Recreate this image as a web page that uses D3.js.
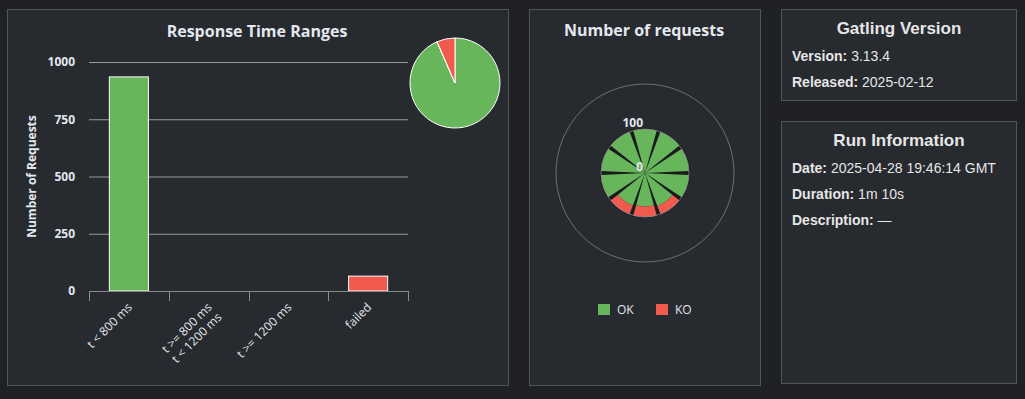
<!doctype html>
<html>
<head>
<meta charset="utf-8">
<script src="https://d3js.org/d3.v7.min.js"></script>
<style>
  html, body { margin: 0; padding: 0; background: #1f2124; }
  body { width: 1025px; height: 399px; position: relative; overflow: hidden; }
  .panel { position: absolute; box-sizing: border-box; background: #272a2f; border: 1px solid #505358; }
  svg { position: absolute; left: 0; top: 0; }
  .chart text { font-family: "Open Sans", sans-serif; fill: #e2e8ee; }
  .info text { font-family: "Liberation Sans", Arial, sans-serif; fill: #e6e6e6; }
</style>
</head>
<body>
<div class="panel" style="left:7px;top:9px;width:502px;height:377px"></div>
<div class="panel" style="left:529px;top:9px;width:232px;height:377px"></div>
<div class="panel" style="left:781px;top:9px;width:236px;height:92px"></div>
<div class="panel" style="left:781px;top:121px;width:236px;height:263px"></div>
<svg width="1025" height="399"></svg>
<script>
// response time ranges
var rangeCategories = ["t < 800 ms", "t >= 800 ms|t < 1200 ms", "t >= 1200 ms", "failed"];
var rangeCounts = [935, 0, 0, 65];
var rangeTicks = [0, 250, 500, 750, 1000];

// number of requests (polar, stacked OK / KO)
var requestNames = ["request_1", "request_2", "request_3", "request_4", "request_5",
                    "request_6", "request_7", "request_8", "request_9", "request_10"];
var okCounts = [100, 100, 100, 100, 80, 76, 79, 100, 100, 100];
var koCounts = [0, 0, 0, 0, 20, 24, 21, 0, 0, 0];
var polarTicks = [0, 100];

// info panels
var versionInfo = [["Version:", "3.13.4"], ["Released:", "2025-02-12"]];
var runInfo = [["Date:", "2025-04-28 19:46:14 GMT"], ["Duration:", "1m 10s"], ["Description:", "\u2014"]];

var green = "#68b65c", red = "#f15b4f";
var svg = d3.select("svg");

// ---------- bar chart ----------
var chart = svg.append("g").attr("class", "chart");
var plot = {left: 89, right: 408, top: 62, bottom: 291};

chart.append("text")
  .attr("x", 257).attr("y", 37)
  .attr("text-anchor", "middle")
  .style("font-size", "16px").style("font-weight", "bold")
  .text("Response Time Ranges");

var x = d3.scaleBand().domain(rangeCategories).range([plot.left, plot.right]);
var y = d3.scaleLinear().domain([0, 1000]).range([plot.bottom, plot.top]);
var barColor = d3.scaleOrdinal().domain(rangeCategories).range([green, "#ffdd00", "#ffa900", red]);

// grid + y labels
var yAxis = chart.append("g")
  .attr("transform", "translate(" + plot.left + ",0)")
  .call(d3.axisLeft(y).tickValues(rangeTicks).tickFormat(d3.format("d"))
    .tickSize(-(plot.right - plot.left)).tickPadding(14));
yAxis.select(".domain").remove();
yAxis.selectAll(".tick line").attr("stroke", "#9a9a9a");
yAxis.selectAll(".tick text")
  .style("font-size", "12px").style("font-weight", "bold")
  .attr("fill", "#e2e8ee").attr("font-family", "Open Sans");

chart.append("text")
  .attr("transform", "translate(36," + ((plot.top + plot.bottom) / 2) + ") rotate(-90)")
  .attr("text-anchor", "middle")
  .style("font-size", "12px").style("font-weight", "bold")
  .text("Number of Requests");

// bars
var barW = x.bandwidth() * 0.49;
chart.append("g").selectAll("rect")
  .data(rangeCategories)
  .enter().append("rect")
  .attr("x", function(d) { return x(d) + (x.bandwidth() - barW) / 2; })
  .attr("y", function(d, i) { return y(rangeCounts[i]); })
  .attr("width", barW)
  .attr("height", function(d, i) { return y(0) - y(rangeCounts[i]); })
  .attr("fill", function(d) { return barColor(d); })
  .attr("stroke", "#ffffff").attr("stroke-width", 1);

// x axis line + boundary ticks
var xa = chart.append("g");
xa.append("line")
  .attr("x1", plot.left).attr("x2", plot.right)
  .attr("y1", plot.bottom + 0.5).attr("y2", plot.bottom + 0.5)
  .attr("stroke", "#8a8a8a");
var bounds = rangeCategories.map(function(d) { return x(d); }).concat([x.range()[1]]);
xa.selectAll(".bt").data(bounds).enter().append("line")
  .attr("x1", function(d) { return Math.round(d) + 0.5; })
  .attr("x2", function(d) { return Math.round(d) + 0.5; })
  .attr("y1", plot.bottom).attr("y2", plot.bottom + 10)
  .attr("stroke", "#8a8a8a");

xa.selectAll(".xl").data(rangeCategories).enter().append("text")
  .attr("transform", function(d) {
    return "translate(" + (x(d) + x.bandwidth() / 2 + 4) + "," + (plot.bottom + 17) + ") rotate(-45)";
  })
  .attr("text-anchor", "end")
  .style("font-size", "12px")
  .each(function(d) {
    var t = d3.select(this);
    d.split("|").forEach(function(line, i) {
      t.append("tspan").attr("x", 0).attr("dy", i === 0 ? 0 : 14).text(line);
    });
  });

// pie
var pie = d3.pie().sort(null)(rangeCounts);
var pieArc = d3.arc().innerRadius(0).outerRadius(45);
chart.append("g")
  .attr("transform", "translate(455,83)")
  .selectAll("path").data(pie).enter().append("path")
  .attr("d", pieArc)
  .attr("fill", function(d, i) { return barColor(rangeCategories[i]); })
  .attr("stroke", "#ffffff").attr("stroke-width", 1)
  .attr("stroke-linejoin", "round");

// ---------- polar chart ----------
var polar = svg.append("g").attr("class", "chart");
polar.append("text")
  .attr("x", 644).attr("y", 36)
  .attr("text-anchor", "middle")
  .style("font-size", "16px").style("font-weight", "bold")
  .text("Number of requests");

var pc = polar.append("g").attr("transform", "translate(645,173)");
var half = Math.PI / requestNames.length;
var angle = d3.scaleBand().domain(requestNames)
  .range([-half, 2 * Math.PI - half]).paddingInner(0.14).paddingOuter(0.07);
var r = d3.scaleLinear().domain([0, 100]).range([0, 44]);

pc.append("circle").attr("r", 89).attr("fill", "none").attr("stroke", "#6e6f72").attr("stroke-width", 1);
pc.append("circle").attr("r", r(100) + 1).attr("fill", "#181a1c");

var wedge = d3.arc();
var stacks = requestNames.map(function(n, i) {
  return [
    {name: n, y0: 0, y1: okCounts[i], color: green},
    {name: n, y0: okCounts[i], y1: okCounts[i] + koCounts[i], color: red}
  ];
});
pc.selectAll(".w").data(d3.merge(stacks).filter(function(d) { return d.y1 > d.y0; }))
  .enter().append("path")
  .attr("d", function(d) {
    return wedge({innerRadius: r(d.y0), outerRadius: r(d.y1),
                  startAngle: angle(d.name), endAngle: angle(d.name) + angle.bandwidth()});
  })
  .attr("fill", function(d) { return d.color; });

pc.append("circle").attr("r", r(100)).attr("fill", "none").attr("stroke", "#8c8c8c").attr("stroke-width", 0.8);

pc.selectAll(".pl").data(polarTicks).enter().append("text")
  .attr("x", -2).attr("y", function(d) { return -r(d) - 2; })
  .attr("text-anchor", "end")
  .style("font-size", "12px").style("font-weight", "bold")
  .text(function(d) { return d; });

// legend
var legend = polar.append("g").attr("transform", "translate(598,304)");
var lg = legend.selectAll("g").data(["OK", "KO"]).enter().append("g")
  .attr("transform", function(d, i) { return "translate(" + (i * 58) + ",0)"; });
lg.append("rect").attr("width", 12).attr("height", 11)
  .attr("fill", function(d, i) { return i === 0 ? green : red; });
lg.append("text").attr("x", 19).attr("y", 10)
  .style("font-size", "12px").text(function(d) { return d; });

// ---------- info panels ----------
var info = svg.append("g").attr("class", "info");
function infoBlock(title, rows, top) {
  info.append("text")
    .attr("x", 899).attr("y", top)
    .attr("text-anchor", "middle")
    .style("font-size", "17px").style("font-weight", "bold")
    .text(title);
  rows.forEach(function(row, i) {
    var t = info.append("text").attr("x", 792).attr("y", top + 27 + i * 26).style("font-size", "14px");
    t.append("tspan").style("font-weight", "bold").text(row[0] + " ");
    t.append("tspan").text(row[1]);
  });
}
infoBlock("Gatling Version", versionInfo, 34);
infoBlock("Run Information", runInfo, 146);
</script>
</body>
</html>
